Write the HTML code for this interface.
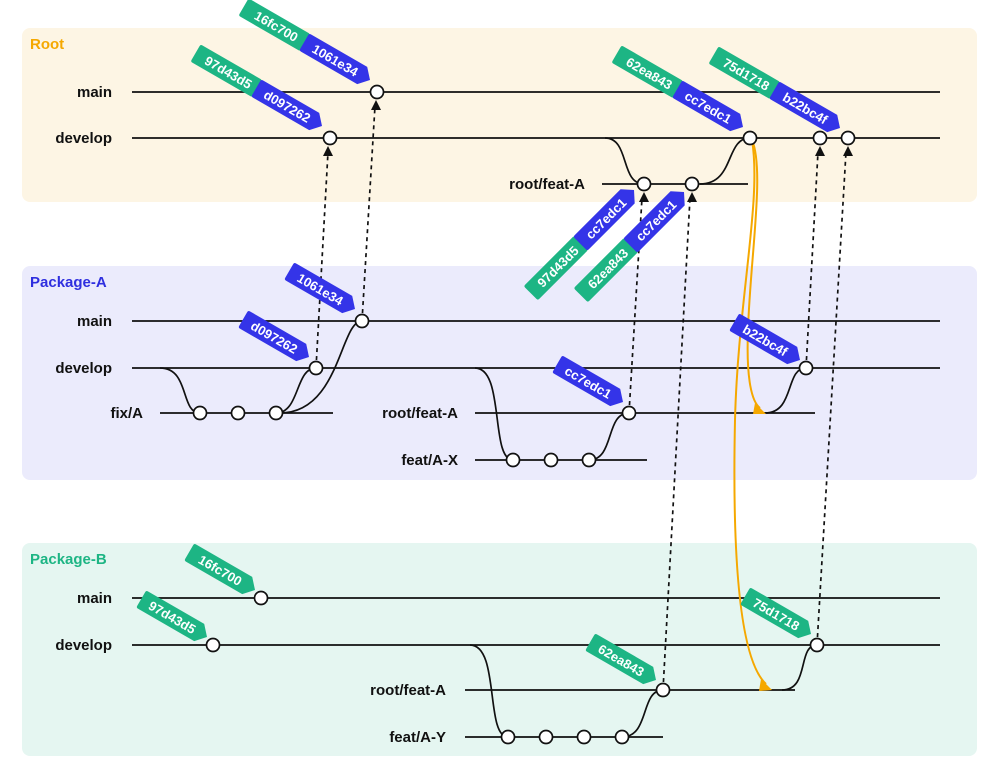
<!DOCTYPE html>
<html><head><meta charset="utf-8"><style>
html,body{margin:0;padding:0;background:#fff;}
svg{display:block;}
.l{font-family:"Liberation Sans",sans-serif;font-weight:bold;font-size:15px;fill:#111;text-anchor:end;}
.t{font-family:"Liberation Sans",sans-serif;font-weight:bold;font-size:13px;fill:#fff;text-anchor:middle;}
.h{font-family:"Liberation Sans",sans-serif;font-weight:bold;font-size:15px;}
.ln{stroke:#111;stroke-width:1.7;fill:none;}
.d{stroke:#111;stroke-width:1.7;fill:none;stroke-dasharray:4,4;}
.c{fill:#fff;stroke:#111;stroke-width:1.7;}
.o{stroke:#f5a800;stroke-width:2;fill:none;}
</style></head><body>
<svg width="1000" height="778" viewBox="0 0 1000 778">
<defs>
<path id="bt" d="M-74,-10 H-9 L0,0 L-9,10 H-74 Q-76,10 -76,8 V-8 Q-76,-10 -74,-10 Z"/>
<path id="gt" d="M-144,-10 H-76 L-67,0 L-76,10 H-144 Q-146,10 -146,8 V-8 Q-146,-10 -144,-10 Z"/>
</defs>
<rect x="22" y="28" width="955" height="174" rx="8" fill="#fdf5e4"/>
<rect x="22" y="266" width="955" height="214" rx="8" fill="#ebebfc"/>
<rect x="22" y="543" width="955" height="213" rx="8" fill="#e5f6f1"/>
<text x="30" y="49" class="h" fill="#f5a800">Root</text>
<text x="30" y="287" class="h" fill="#2f2fdf">Package-A</text>
<text x="30" y="564" class="h" fill="#1db584">Package-B</text>

<text x="112" y="97" class="l">main</text>
<text x="112" y="143" class="l">develop</text>
<text x="585" y="189" class="l">root/feat-A</text>
<text x="112" y="326" class="l">main</text>
<text x="112" y="373" class="l">develop</text>
<text x="143" y="418" class="l">fix/A</text>
<text x="458" y="418" class="l">root/feat-A</text>
<text x="458" y="465" class="l">feat/A-X</text>
<text x="112" y="603" class="l">main</text>
<text x="112" y="650" class="l">develop</text>
<text x="446" y="695" class="l">root/feat-A</text>
<text x="446" y="742" class="l">feat/A-Y</text>

<g class="ln">
<path d="M132,92 H940 M132,138 H940 M602,184 H748"/>
<path d="M605,138 C630,138 620,184 644,184 M700,184 C735,184 725,138 750,138"/>
<path d="M132,321 H940 M132,368 H940 M160,413 H333 M475,413 H815 M475,460 H647"/>
<path d="M160,368 C190,368 180,413 200,413 M276,413 C300,413 295,368 316,368 M280,413 C340,413 340,321 362,321"/>
<path d="M475,368 C505,368 490,460 513,460 M589,460 C615,460 605,413 629,413 M765,413 C795,413 785,368 806,368"/>
<path d="M132,598 H940 M132,645 H940 M465,690 H795 M465,737 H663"/>
<path d="M470,645 C500,645 485,737 508,737 M622,737 C650,737 640,690 663,690 M782,690 C810,690 797,645 817,645"/>
</g>

<g class="d">
<path d="M316,368 L328,152 M362,321 L375,106 M629,413 L642,198 M663,690 L690,198 M806,368 L818,152 M817,645 L846,152"/>
</g>
<g fill="#111">
<path d="M323,156 L333,156 L328,146 Z"/>
<path d="M371,110 L381,110 L376,100 Z"/>
<path d="M639,202 L649,202 L644,192 Z"/>
<path d="M687,202 L697,202 L692,192 Z"/>
<path d="M815,156 L825,156 L820,146 Z"/>
<path d="M843,156 L853,156 L848,146 Z"/>
</g>

<path class="o" d="M752,140 C765,170 750,260 748,330 C746,380 752,402 760,408"/>
<path d="M755,403 L766,414 L753,414 Z" fill="#f5a800"/>
<path class="o" d="M752,140 C762,200 738,300 735,420 C732,560 740,660 766,684"/>
<path d="M761,679 L772,690 L759,691 Z" fill="#f5a800"/>

<g class="c">
<circle cx="377" cy="92" r="6.5"/>
<circle cx="330" cy="138" r="6.5"/><circle cx="750" cy="138" r="6.5"/><circle cx="820" cy="138" r="6.5"/><circle cx="848" cy="138" r="6.5"/>
<circle cx="644" cy="184" r="6.5"/><circle cx="692" cy="184" r="6.5"/>
<circle cx="362" cy="321" r="6.5"/>
<circle cx="316" cy="368" r="6.5"/><circle cx="806" cy="368" r="6.5"/>
<circle cx="200" cy="413" r="6.5"/><circle cx="238" cy="413" r="6.5"/><circle cx="276" cy="413" r="6.5"/><circle cx="629" cy="413" r="6.5"/>
<circle cx="513" cy="460" r="6.5"/><circle cx="551" cy="460" r="6.5"/><circle cx="589" cy="460" r="6.5"/>
<circle cx="261" cy="598" r="6.5"/>
<circle cx="213" cy="645" r="6.5"/><circle cx="817" cy="645" r="6.5"/>
<circle cx="663" cy="690" r="6.5"/>
<circle cx="508" cy="737" r="6.5"/><circle cx="546" cy="737" r="6.5"/><circle cx="584" cy="737" r="6.5"/><circle cx="622" cy="737" r="6.5"/>
</g>

<g transform="translate(370,80) rotate(30)"><use href="#gt" fill="#1db584"/><use href="#bt" fill="#3434e8"/><text x="-108" y="5" class="t">16fc700</text><text x="-40" y="5" class="t">1061e34</text></g>
<g transform="translate(322,126) rotate(30)"><use href="#gt" fill="#1db584"/><use href="#bt" fill="#3434e8"/><text x="-108" y="5" class="t">97d43d5</text><text x="-40" y="5" class="t">d097262</text></g>
<g transform="translate(743,127) rotate(30)"><use href="#gt" fill="#1db584"/><use href="#bt" fill="#3434e8"/><text x="-108" y="5" class="t">62ea843</text><text x="-40" y="5" class="t">cc7edc1</text></g>
<g transform="translate(840,128) rotate(30)"><use href="#gt" fill="#1db584"/><use href="#bt" fill="#3434e8"/><text x="-108" y="5" class="t">75d1718</text><text x="-40" y="5" class="t">b22bc4f</text></g>
<g transform="translate(634,190) rotate(-45)"><use href="#gt" fill="#1db584"/><use href="#bt" fill="#3434e8"/><text x="-108" y="5" class="t">97d43d5</text><text x="-40" y="5" class="t">cc7edc1</text></g>
<g transform="translate(684,192) rotate(-45)"><use href="#gt" fill="#1db584"/><use href="#bt" fill="#3434e8"/><text x="-108" y="5" class="t">62ea843</text><text x="-40" y="5" class="t">cc7edc1</text></g>

<g transform="translate(355,309) rotate(30)"><use href="#bt" fill="#3434e8"/><text x="-40" y="5" class="t">1061e34</text></g>
<g transform="translate(309,357) rotate(30)"><use href="#bt" fill="#3434e8"/><text x="-40" y="5" class="t">d097262</text></g>
<g transform="translate(623,402) rotate(30)"><use href="#bt" fill="#3434e8"/><text x="-40" y="5" class="t">cc7edc1</text></g>
<g transform="translate(800,360) rotate(30)"><use href="#bt" fill="#3434e8"/><text x="-40" y="5" class="t">b22bc4f</text></g>
<g transform="translate(255,590) rotate(30)"><use href="#bt" fill="#1db584"/><text x="-40" y="5" class="t">16fc700</text></g>
<g transform="translate(207,637) rotate(30)"><use href="#bt" fill="#1db584"/><text x="-40" y="5" class="t">97d43d5</text></g>
<g transform="translate(656,680) rotate(30)"><use href="#bt" fill="#1db584"/><text x="-40" y="5" class="t">62ea843</text></g>
<g transform="translate(811,634) rotate(30)"><use href="#bt" fill="#1db584"/><text x="-40" y="5" class="t">75d1718</text></g>
</svg>
</body></html>
